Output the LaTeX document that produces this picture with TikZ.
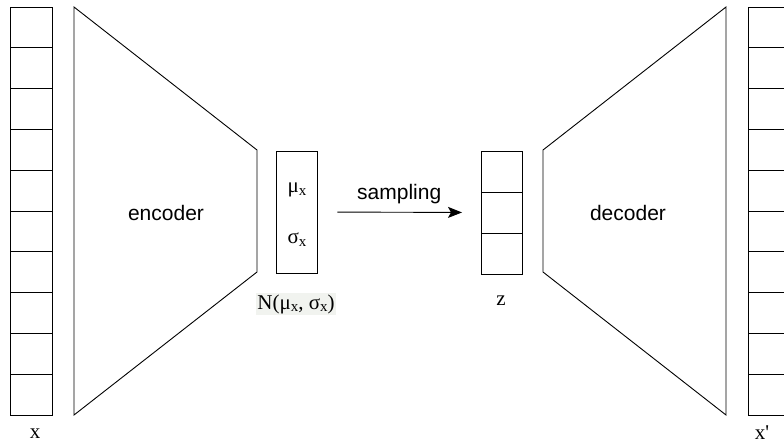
\documentclass[tikz,border=0pt]{standalone}
\usepackage{fontspec}
\usetikzlibrary{arrows.meta}
\setmainfont{Liberation Serif}
\setsansfont{Liberation Sans}
\definecolor{labelbg}{HTML}{F1F3EF}
\newcommand{\sub}[1]{\raisebox{-0.3ex}{\fontsize{15}{17}\selectfont #1}}
\tikzset{
  cell/.style={draw,line width=0.9pt,minimum width=42pt,minimum height=40.8pt,inner sep=0pt,outer sep=0pt},
  zcell/.style={draw,line width=0.9pt,minimum width=41pt,minimum height=41pt,inner sep=0pt,outer sep=0pt},
  sanslabel/.style={font=\sffamily\fontsize{21}{24}\selectfont},
  seriflabel/.style={font=\fontsize{21}{24}\selectfont,inner sep=1pt}
}
\begin{document}
\begin{tikzpicture}[x=1pt,y=-1pt]
  \useasboundingbox (0,0) rectangle (784,445);
  \clip (0,0) rectangle (784,445);
  % input and output columns
  \foreach \i in {1,...,10} {
    \node[cell] (x\i) at (31,7+40.8*\i-20.4) {};
    \node[cell] (y\i) at (769,7+40.8*\i-20.4) {};
  }
  \node[seriflabel] (xlab) at (35,434) {x};
  \node[seriflabel] (ylab) at (762,433) {x\textquotesingle};
  % encoder and decoder
  \draw[line width=0.9pt] (74,7) -- (257,150) -- (257,272) -- (74,415) -- cycle;
  \node[sanslabel] (enc) at (166,213) {encoder};
  \draw[line width=0.9pt] (726,7) -- (543,150) -- (543,272) -- (726,415) -- cycle;
  \node[sanslabel] (dec) at (628,213) {decoder};
  % latent distribution
  \node[draw,line width=0.9pt,minimum width=41pt,minimum height=122pt,inner sep=0pt] (mu) at (296.5,212) {};
  \node[seriflabel] (mutext) at (297,190) {μ\sub{x}};
  \node[seriflabel] (sigmatext) at (297,240) {σ\sub{x}};
  \node[seriflabel,fill=labelbg] (dist) at (296,304) {N(μ\sub{x}, σ\sub{x})};
  % sampled z
  \foreach \i in {1,2,3}
    \node[zcell] (z\i) at (501.5,151+41*\i-20.5) {};
  \node[seriflabel] (zlab) at (501,301) {z};
  \draw[line width=0.9pt,-{Stealth[length=14pt,width=11pt,inset=3pt]},shorten <=20pt,shorten >=19pt] (mu.east) -- (z2.west)
    node[midway,above=5pt,sanslabel] (samp) {sampling};
\end{tikzpicture}
\end{document}
